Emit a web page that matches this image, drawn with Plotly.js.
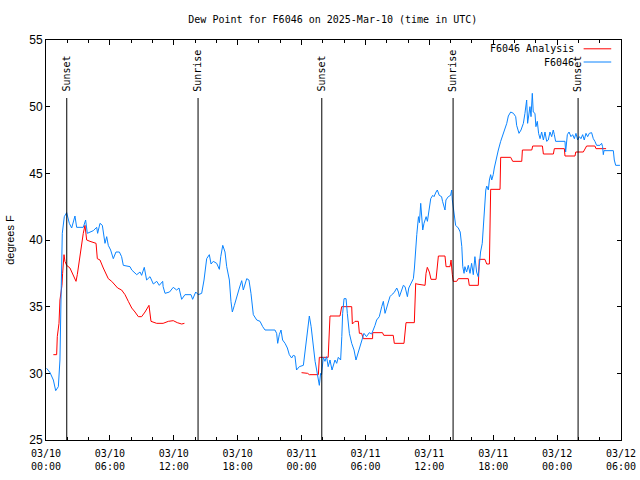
<!DOCTYPE html>
<html>
<head>
<meta charset="utf-8">
<script src="https://cdn.plot.ly/plotly-3.0.1.min.js"></script>
<style>html,body{margin:0;padding:0;background:#fff;}#chart{width:640px;height:480px;}</style>
</head>
<body>
<div id="chart"></div>
<script>
// hours since 2025-03-10 00:00 UTC
var obsHours = [0.06,0.38,0.69,0.91,1.16,1.31,1.41,1.53,1.72,1.94,2.19,2.41,2.72,2.88,3.5,3.72,3.88,4.13,4.44,4.76,4.85,5.07,5.29,5.54,5.70,5.85,6.07,6.32,6.57,6.89,7.1,7.26,7.89,8.05,8.52,8.83,8.98,9.23,9.45,9.77,10.08,10.4,10.64,10.96,11.0,11.18,11.6,11.95,12.27,12.49,12.74,13.05,13.21,13.62,13.77,14.06,14.3,14.62,14.84,15.09,15.34,15.5,15.71,16.03,16.28,16.41,16.6,16.81,16.97,17.22,17.37,17.5,17.69,17.97,18.16,18.38,18.53,18.85,19.06,19.25,19.47,19.79,20.1,20.35,20.57,21.5,21.66,21.76,21.91,22.07,22.22,22.45,22.67,22.85,23.07,23.22,23.38,23.53,23.79,24.17,24.32,24.48,24.64,24.73,24.9,25.05,25.27,25.42,25.58,25.67,25.79,25.88,26.04,26.2,26.35,26.5,26.67,26.86,27.14,27.3,27.45,27.67,27.78,27.86,27.99,28.18,28.3,28.49,28.71,28.93,29.11,29.33,29.55,29.71,29.86,30.1,30.36,30.58,30.74,30.9,31.05,31.3,31.53,31.68,31.84,32.0,32.15,32.3,32.47,32.69,32.94,33.1,33.19,33.41,33.56,33.72,33.82,33.94,34.07,34.25,34.5,34.6,34.72,34.82,34.98,35.07,35.19,35.29,35.38,35.5,35.7,35.82,35.97,36.13,36.32,36.44,36.63,36.75,36.93,37.15,37.24,37.47,37.56,37.78,38.0,38.1,38.16,38.25,38.35,38.47,38.72,38.9,39.05,39.14,39.26,39.34,39.5,39.66,39.82,39.97,40.13,40.28,40.44,40.59,40.68,40.81,40.97,41.07,41.17,41.3,41.39,41.54,41.64,41.76,41.86,42.0,42.1,42.26,42.48,42.7,42.95,43.11,43.27,43.42,43.64,43.9,44.11,44.2,44.42,44.61,44.83,44.98,45.14,45.23,45.36,45.45,45.55,45.67,45.76,45.92,46.01,46.14,46.26,46.4,46.55,46.71,46.86,47.02,47.17,47.33,47.49,47.64,47.74,47.86,48.74,48.8,48.96,49.12,49.3,49.46,49.62,49.77,49.93,50.09,50.24,50.4,50.55,50.71,50.87,51.02,51.24,51.4,51.55,51.71,52.02,52.18,52.27,52.34,52.4,53.28,53.37,53.5,53.9];
var obsDewF = [30.38,30.05,29.5,28.7,29.0,31.0,35.5,40.5,41.75,42.05,41.25,40.9,41.8,40.95,40.95,41.5,40.5,40.6,40.7,40.95,40.5,41.25,41.1,39.75,40.25,39.6,39.25,38.6,39.1,39.1,38.75,38.1,38.0,37.75,37.4,37.6,37.35,37.95,37.0,37.25,36.7,36.9,36.6,36.9,36.5,36.0,36.1,36.45,36.25,36.4,35.55,35.9,35.9,35.9,35.55,36.1,35.9,36.0,37.0,38.6,38.9,38.2,38.4,38.25,37.8,38.75,39.6,39.1,38.0,37.0,35.4,34.6,35.1,36.0,36.4,36.95,36.25,37.1,37.0,36.0,34.4,34.0,33.9,33.5,33.25,33.25,33.0,32.25,32.9,33.25,32.5,32.25,31.9,31.4,31.15,31.35,31.3,30.25,30.5,30.6,31.6,32.5,33.6,34.3,33.5,32.25,30.9,30.25,29.25,29.1,30.0,29.9,31.2,30.9,31.25,30.5,31.0,30.25,31.0,30.75,31.2,31.0,32.75,34.5,35.6,35.6,34.5,33.0,32.25,31.75,31.0,31.6,32.25,32.75,33.0,32.75,33.05,32.95,33.25,33.6,34.0,34.25,35.0,35.4,34.5,35.0,35.5,35.75,35.9,36.05,36.4,36.1,35.75,36.25,36.6,36.5,36.1,35.75,36.4,36.75,37.1,37.9,39.4,40.4,41.75,41.3,42.75,41.75,40.75,41.25,41.75,41.4,42.1,43.1,43.35,43.25,43.6,43.75,43.35,43.25,42.9,42.25,43.0,43.25,43.35,43.75,43.0,42.4,41.9,41.1,40.9,40.6,39.5,38.0,37.5,38.0,37.6,38.1,37.5,38.25,37.4,38.75,37.6,37.25,38.0,39.1,39.75,41.1,42.5,43.75,44.05,43.75,44.5,44.9,44.5,44.9,45.4,46.1,46.75,47.4,48.0,48.4,48.75,49.3,49.6,49.5,49.25,48.6,48.0,48.25,48.75,49.5,50.5,48.75,49.5,50.0,49.25,51.0,49.6,49.5,48.5,48.9,48.0,47.6,48.1,47.5,48.1,47.4,47.5,48.1,47.75,48.25,47.9,47.4,47.4,46.6,47.9,48.1,47.75,47.9,47.6,48.0,47.5,47.75,47.6,47.9,47.5,48.0,47.75,48.0,48.05,47.6,47.4,47.1,47.1,47.25,47.0,46.4,46.7,46.7,46.0,45.6,45.6];

var anaHours = [0.69,1.0,1.06,1.22,1.31,1.5,1.56,1.69,1.78,1.94,2.25,2.57,2.82,2.94,3.13,3.35,3.5,3.66,3.82,4.13,4.7,4.82,5.07,5.38,5.63,5.85,6.17,6.48,6.73,7.1,7.42,7.73,8.05,8.36,8.67,8.98,9.3,9.67,9.86,10.39,11.0,11.49,11.95,12.33,12.74,13.0,
  18.0,
  24.0,24.57,24.73,25.58,25.67,26.5,26.67,27.61,27.77,28.71,28.77,29.02,29.33,29.43,29.64,29.8,30.67,30.68,31.6,31.72,32.61,32.71,33.62,33.81,34.59,34.72,34.82,35.6,35.69,35.81,36.0,36.16,36.63,36.75,36.85,37.47,37.57,37.94,38.04,38.16,38.25,38.57,38.72,39.66,39.75,40.6,40.69,41.22,41.39,41.64,41.7,41.76,42.64,42.7,43.64,43.83,44.68,44.74,45.62,45.71,46.62,46.71,47.65,47.74,48.68,48.74,49.68,49.75,50.46,50.61,50.77,51.55,51.65,52.6];
var anaDewF = [31.4,31.4,32.75,33.75,35.5,36.6,37.5,38.9,38.4,38.1,37.9,37.4,36.9,37.4,38.5,39.5,40.5,41.1,40.0,39.9,39.75,38.6,38.5,37.9,37.4,37.1,36.9,36.6,36.4,36.25,35.9,35.4,34.9,34.6,34.25,34.25,34.6,35.1,33.9,33.75,33.75,33.9,33.95,33.8,33.7,33.75,
  null,
  30.05,30.0,29.9,29.9,31.2,31.2,34.3,34.3,35.0,35.0,33.7,33.9,33.9,33.0,33.0,32.6,32.6,33.05,33.05,32.85,32.85,32.25,32.25,33.8,33.8,36.75,36.7,36.6,37.5,37.95,37.6,37.05,37.05,37.95,38.8,38.8,38.0,38.0,38.5,37.4,36.9,36.9,37.1,37.1,36.6,36.6,38.55,38.55,38.2,38.2,41.0,43.8,43.8,46.2,46.2,45.9,45.9,46.75,46.75,47.05,47.05,46.45,46.45,46.85,46.85,46.3,46.3,46.6,46.6,46.8,47.05,47.05,46.85,46.85];

var sunEventHours = [1.95, 14.28, 25.9, 38.23, 49.97];
var sunEventLabels = ['Sunset', 'Sunrise', 'Sunset', 'Sunrise', 'Sunset'];

var seriesNames = ['F6046 Analysis', 'F6046'];
var seriesColors = ['#ff0000', '#0a84ff'];

function pad(n){ return (n < 10 ? '0' : '') + n; }
function toDate(h){
  var d = new Date(Date.UTC(2025, 2, 10) + Math.round(h * 3600000));
  return d.getUTCFullYear() + '-' + pad(d.getUTCMonth()+1) + '-' + pad(d.getUTCDate()) + ' ' +
         pad(d.getUTCHours()) + ':' + pad(d.getUTCMinutes()) + ':' + pad(d.getUTCSeconds());
}

var mono = 'DejaVu Sans Mono, Liberation Mono, monospace';

var traces = [
  {x: anaHours.map(toDate), y: anaDewF, type: 'scatter', mode: 'lines', name: seriesNames[0],
   line: {color: seriesColors[0], width: 1}, connectgaps: false, showlegend: false},
  {x: obsHours.map(toDate), y: obsDewF, type: 'scatter', mode: 'lines', name: seriesNames[1],
   line: {color: seriesColors[1], width: 1}, showlegend: false}
];

var shapes = [];
var annotations = [];
sunEventHours.forEach(function(h, i){
  shapes.push({type: 'line', xref: 'x', yref: 'paper', x0: toDate(h), x1: toDate(h), y0: 0, y1: 0.855,
               line: {color: '#000', width: 1}});
  annotations.push({xref: 'x', yref: 'paper', x: toDate(h), y: 0.868, yanchor: 'bottom', xanchor: 'center',
                    text: sunEventLabels[i], textangle: -90, showarrow: false, borderpad: 0,
                    font: {family: mono, size: 10, color: '#000'}});
});

// gnuplot-style key: text right-aligned, sample line to the right
var keyRowsY = [0.978, 0.945];
seriesNames.forEach(function(name, i){
  annotations.push({xref: 'paper', yref: 'paper', x: 0.921, y: keyRowsY[i], xanchor: 'right', yanchor: 'middle',
                    text: name, showarrow: false, font: {family: mono, size: 10, color: '#000'}});
  shapes.push({type: 'line', xref: 'paper', yref: 'paper', x0: 0.935, x1: 0.983, y0: keyRowsY[i], y1: keyRowsY[i],
               line: {color: seriesColors[i], width: 1}});
});

var layout = {
  width: 640, height: 480,
  margin: {l: 46, r: 19, t: 40, b: 40, pad: 0},
  paper_bgcolor: '#fff', plot_bgcolor: '#fff',
  title: {text: 'Dew Point for F6046 on 2025-Mar-10 (time in UTC)', x: 0.52, xanchor: 'center', y: 0.96, yanchor: 'middle',
          font: {family: mono, size: 10, color: '#000'}},
  showlegend: false,
  xaxis: {
    type: 'date', range: [toDate(0), toDate(54)],
    tick0: toDate(0), dtick: 6 * 3600000, tickformat: '%m/%d<br>%H:%M',
    ticks: 'inside', ticklen: 5, tickcolor: '#000', tickwidth: 1,
    minor: {dtick: 2 * 3600000, tick0: toDate(0), ticks: 'inside', ticklen: 3, tickcolor: '#000', showgrid: false},
    showline: true, linecolor: '#000', linewidth: 1, mirror: 'ticks',
    showgrid: false, zeroline: false, ticklabelstandoff: 4,
    tickfont: {family: mono, size: 10, color: '#000'}
  },
  yaxis: {
    range: [25, 55], dtick: 5, tick0: 25,
    ticks: 'inside', ticklen: 4, tickcolor: '#000',
    showline: true, linecolor: '#000', linewidth: 1, mirror: 'ticks',
    showgrid: false, zeroline: false,
    tickfont: {family: 'Liberation Sans, Arial, sans-serif', size: 12, color: '#000'},
    title: {text: 'degrees F', standoff: 12, font: {family: 'Liberation Sans, Arial, sans-serif', size: 11, color: '#000'}}
  },
  shapes: shapes,
  annotations: annotations
};

Plotly.newPlot('chart', traces, layout, {staticPlot: true, displayModeBar: false});
</script>
</body>
</html>
